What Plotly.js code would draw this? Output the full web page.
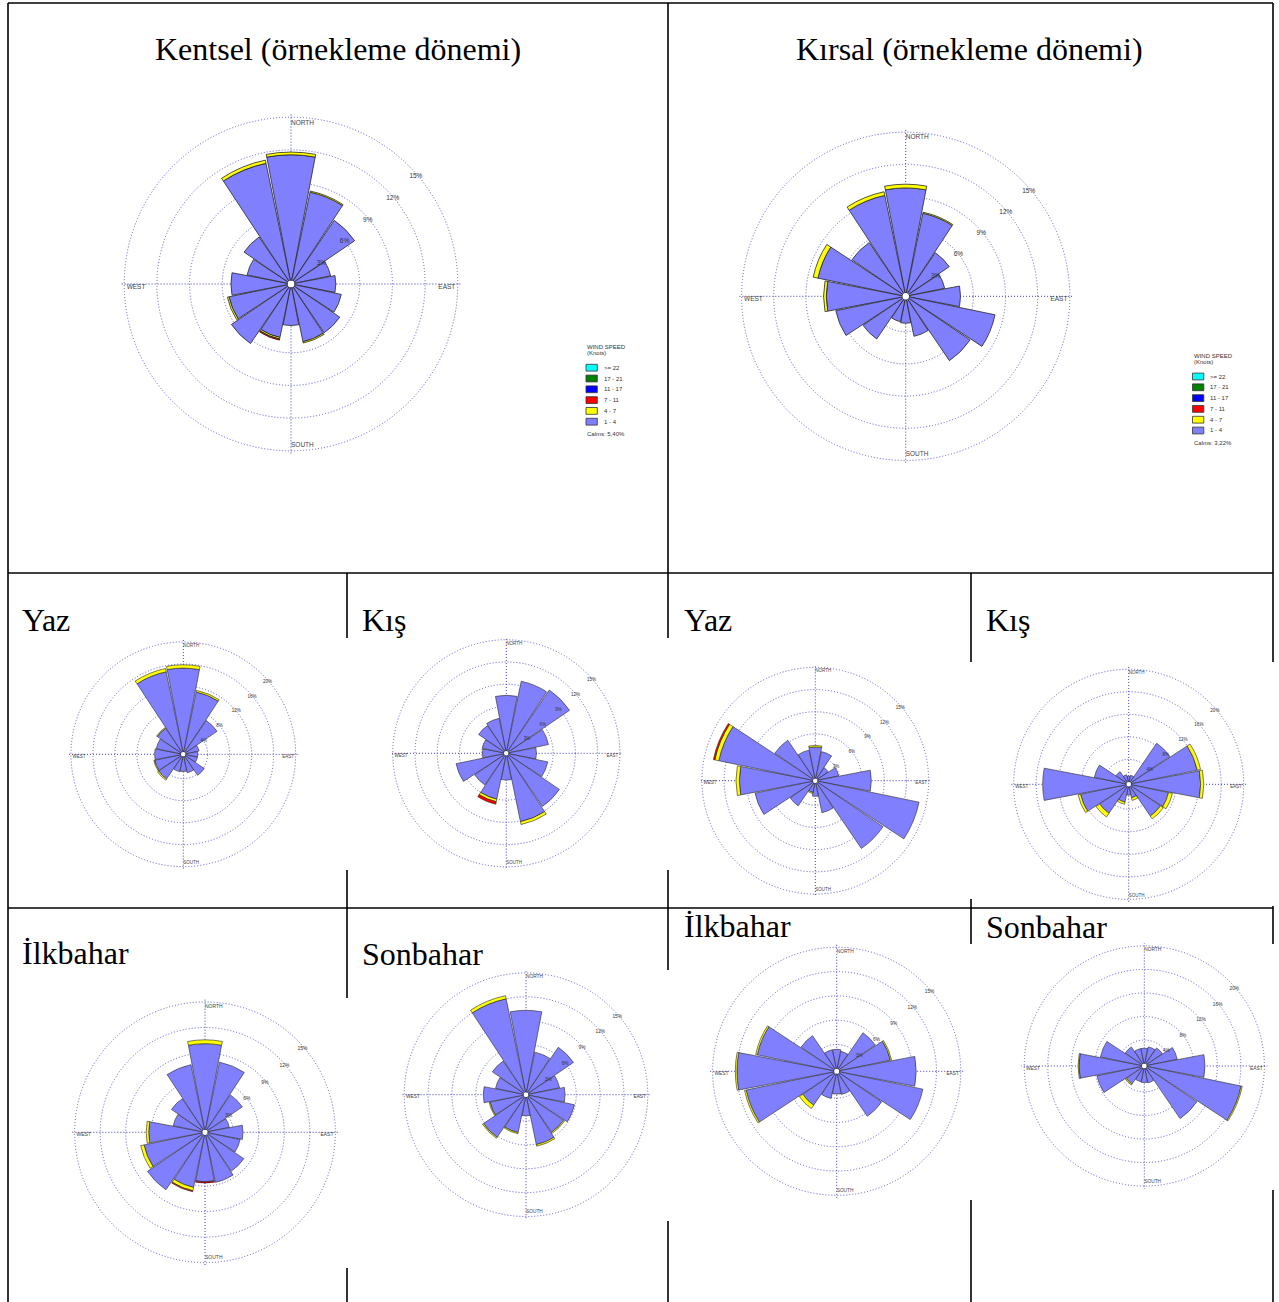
<!DOCTYPE html>
<html>
<head>
<meta charset="utf-8">
<script src="https://cdn.plot.ly/plotly-3.0.1.min.js"></script>
<style>
html,body{margin:0;padding:0;background:#ffffff;}
#chart{width:1279px;height:1302px;}
</style>
</head>
<body>
<div id="chart"></div>
<script>
// ---------------- DATA ----------------
const directions = ['N','NNE','NE','ENE','E','ESE','SE','SSE','S','SSW','SW','WSW','W','WNW','NW','NNW'];
const directionDegrees = [0,22.5,45,67.5,90,112.5,135,157.5,180,202.5,225,247.5,270,292.5,315,337.5];
const compassLabels = ['NORTH','EAST','SOUTH','WEST'];
const compassDegrees = [0,90,180,270];

const speedBins = ['1 - 4','4 - 7','7 - 11','11 - 17','17 - 21','>= 22'];
const speedColors = ['rgb(128,128,255)','#ffff00','#ff0000','#0000ff','#008000','#00ffff'];
const legendOrder = ['>= 22','17 - 21','11 - 17','7 - 11','4 - 7','1 - 4'];

const ticks15 = [3,6,9,12,15];
const ticks20 = [4,8,12,16,20];

const panelTitles = ['Kentsel (örnekleme dönemi)','Kırsal (örnekleme dönemi)'];
const seasonTitles = ['Yaz','Kış','Yaz','Kış','İlkbahar','Sonbahar','İlkbahar','Sonbahar'];
const calmsText = ['Calms: 5,40%','Calms: 3,22%'];

// Kentsel (urban) – whole sampling period (% frequency)
const kentselAll_1_4  = [11.55,8.3,6.75,3.4,3.8,4.4,5.1,5.1,3.5,4.7,6.3,5.5,5.2,3.8,4.9,11.0];
const kentselAll_4_7  = [0.25,0.1,0,0,0,0,0,0.12,0,0.15,0,0.15,0,0,0,0.3];
const kentselAll_7_11 = [0,0,0,0,0,0,0,0,0,0.1,0,0,0,0,0,0];
// Kırsal (rural) – whole sampling period
const kirsalAll_1_4  = [9.8,7.6,4.6,3.4,4.8,8.2,6.95,3.5,2.2,2.1,4.5,6.35,7.1,8.05,5.75,9.3];
const kirsalAll_4_7  = [0.35,0.1,0,0,0,0,0,0,0,0,0,0,0.25,0.45,0,0.35];
const kirsalAll_7_11 = [0,0,0,0,0,0,0,0,0,0,0,0,0,0,0,0];
// Kentsel Yaz
const kentselYaz_1_4  = [15.25,11.15,7.0,2.5,2.2,2.2,4.2,3.0,2.7,2.8,5.0,4.9,4.8,4.6,5.3,14.9];
const kentselYaz_4_7  = [0.6,0.3,0,0,0,0,0,0,0,0,0.25,0.15,0,0,0.15,0.6];
const kentselYaz_7_11 = [0,0,0,0,0,0,0,0,0,0,0,0,0,0,0,0];
// Kentsel Kış
const kentselKis_1_4  = [7.5,9.6,10.0,5.5,3.75,5.4,8.35,9.1,3.3,6.0,4.85,6.6,2.9,3.0,4.2,4.5];
const kentselKis_4_7  = [0,0,0,0,0,0,0,0.4,0,0.35,0,0,0,0,0,0];
const kentselKis_7_11 = [0,0,0,0,0,0,0,0,0,0.35,0,0,0,0,0,0];
// Kırsal Yaz
const kirsalYaz_1_4  = [4.25,3.7,1.8,2.9,7.25,14.0,10.75,4.1,1.8,1.3,3.8,8.0,9.95,13.0,6.3,3.9];
const kirsalYaz_4_7  = [0.2,0,0,0,0,0,0,0,0,0.15,0,0,0.45,0.55,0,0];
const kirsalYaz_7_11 = [0,0,0,0,0,0,0,0,0,0,0,0,0,0.2,0,0];
// Kırsal Kış
const kirsalKis_1_4  = [1.0,1.2,8.4,12.0,12.35,6.8,6.4,2.0,1.5,2.8,5.8,8.3,14.85,5.8,2.3,1.3];
const kirsalKis_4_7  = [0,0,0,0.6,0.55,0.7,0.6,0.5,0,0.4,0.8,0.45,0,0,0,0];
const kirsalKis_7_11 = [0,0,0,0,0,0,0,0,0,0,0,0,0,0,0,0];
// Kentsel İlkbahar
const kentselIlk_1_4  = [10.1,8.1,5.0,2.6,4.15,3.9,5.2,5.7,5.5,6.3,7.85,7.0,6.3,3.5,4.45,7.8];
const kentselIlk_4_7  = [0.45,0,0,0,0,0,0,0,0,0.4,0,0.4,0.3,0,0,0];
const kentselIlk_7_11 = [0,0,0,0,0,0,0,0,0.15,0.12,0,0,0,0,0,0];
// Kentsel Sonbahar
const kentselSon_1_4  = [10.3,5.15,6.9,4.0,4.6,5.9,5.4,6.1,2.35,4.55,6.15,4.3,5.05,3.6,4.8,12.0];
const kentselSon_4_7  = [0,0,0,0,0,0,0.15,0.2,0,0.15,0.15,0.12,0,0,0,0.4];
const kentselSon_7_11 = [0,0,0,0,0,0,0,0,0,0,0,0,0,0,0,0];
// Kırsal İlkbahar
const kirsalIlk_1_4  = [2.4,2.2,5.45,6.45,9.5,10.55,6.4,2.6,2.5,3.1,4.75,11.1,12.0,9.7,5.0,2.4];
const kirsalIlk_4_7  = [0,0,0,0.15,0,0,0,0,0,0,0.5,0.2,0.2,0.2,0,0];
const kirsalIlk_7_11 = [0,0,0,0,0,0,0,0,0,0,0,0,0,0,0,0];
// Kırsal Sonbahar
const kirsalSon_1_4  = [2.6,2.9,3.3,5.3,9.9,16.4,10.4,2.5,2.4,2.3,3.3,7.8,10.7,7.2,3.5,2.6];
const kirsalSon_4_7  = [0,0,0,0,0,0.2,0,0,0,0,0.2,0,0.15,0,0,0];
const kirsalSon_7_11 = [0,0,0,0,0,0,0,0,0,0,0,0,0,0,0,0];

// ---------------- LAYOUT HELPERS ----------------
const W = 1279, H = 1302;
const px = x => x / W;
const py = y => 1 - y / H;
const PAD = 1.025; // radial range slightly beyond the outer ring so its grid circle is drawn

const roses = [
  {cx:291,   cy:284,    R:166.7, rmax:15, ticks:ticks15, bins:[kentselAll_1_4,kentselAll_4_7,kentselAll_7_11], fs:6.5},
  {cx:905.7, cy:296.3,  R:164,   rmax:15, ticks:ticks15, bins:[kirsalAll_1_4,kirsalAll_4_7,kirsalAll_7_11], fs:6.5},
  {cx:183.3, cy:754.3,  R:112.3, rmax:20, ticks:ticks20, bins:[kentselYaz_1_4,kentselYaz_4_7,kentselYaz_7_11], fs:4.5},
  {cx:506.3, cy:753.3,  R:113.5, rmax:15, ticks:ticks15, bins:[kentselKis_1_4,kentselKis_4_7,kentselKis_7_11], fs:4.5},
  {cx:815.3, cy:780.7,  R:113.3, rmax:15, ticks:ticks15, bins:[kirsalYaz_1_4,kirsalYaz_4_7,kirsalYaz_7_11], fs:4.5},
  {cx:1128.7,cy:784.3,  R:115,   rmax:20, ticks:ticks20, bins:[kirsalKis_1_4,kirsalKis_4_7,kirsalKis_7_11], fs:4.5},
  {cx:205,   cy:1132.3, R:130.3, rmax:15, ticks:ticks15, bins:[kentselIlk_1_4,kentselIlk_4_7,kentselIlk_7_11], fs:5},
  {cx:526,   cy:1094.7, R:121.7, rmax:15, ticks:ticks15, bins:[kentselSon_1_4,kentselSon_4_7,kentselSon_7_11], fs:4.8},
  {cx:836.7, cy:1071.3, R:124,   rmax:15, ticks:ticks15, bins:[kirsalIlk_1_4,kirsalIlk_4_7,kirsalIlk_7_11], fs:4.8},
  {cx:1144.3,cy:1066,   R:120,   rmax:20, ticks:ticks20, bins:[kirsalSon_1_4,kirsalSon_4_7,kirsalSon_7_11], fs:4.8}
];

const gridColor = '#5a5ad0';
const axisColor = '#3a3ab8';
const gridDash = '1px,2px';
const labelFont = 'Liberation Sans, Arial, sans-serif';
const serifFont = 'Liberation Serif, Times New Roman, serif';

const traces = [];
const layout = {
  width: W, height: H,
  margin: {l:0, r:0, t:0, b:0},
  paper_bgcolor: '#ffffff',
  showlegend: false,
  shapes: [],
  annotations: []
};

roses.forEach((rose, i) => {
  const key = i === 0 ? 'polar' : 'polar' + (i + 1);
  const Rd = rose.R * PAD;
  rose.bins.forEach((vals, j) => {
    if (!vals.some(v => v > 0)) return;
    traces.push({
      type: 'barpolar',
      subplot: key,
      name: speedBins[j],
      r: vals.map(v => v > 0 ? v : null),
      theta: directionDegrees,
      width: 21.6,
      marker: {color: speedColors[j], line: {color: '#262626', width: i < 2 ? 0.8 : 0.6}},
      hoverinfo: 'skip'
    });
  });
  // ring labels
  traces.push({
    type: 'scatterpolar', subplot: key, mode: 'text',
    r: rose.ticks.map(t => t * 0.97), theta: rose.ticks.map(() => 47),
    text: rose.ticks.map(t => t + '%'),
    textposition: 'bottom right',
    textfont: {family: labelFont, size: rose.fs, color: '#333333'},
    cliponaxis: false, hoverinfo: 'skip'
  });
  // compass labels
  traces.push({
    type: 'scatterpolar', subplot: key, mode: 'text',
    r: compassDegrees.map(() => rose.rmax * 0.985),
    theta: compassDegrees,
    text: compassLabels,
    textposition: ['bottom right','bottom left','top right','bottom right'],
    textfont: {family: labelFont, size: rose.fs, color: '#444444'},
    cliponaxis: false, hoverinfo: 'skip'
  });
  layout[key] = {
    domain: {x: [px(rose.cx - Rd), px(rose.cx + Rd)], y: [py(rose.cy + Rd), py(rose.cy - Rd)]},
    bgcolor: 'rgba(255,255,255,0)',
    hole: 0.02,
    barmode: 'stack',
    bargap: 0,
    radialaxis: {
      range: [0, rose.rmax * PAD], tickvals: rose.ticks, showticklabels: false, ticks: '',
      showline: false, showgrid: true, gridcolor: gridColor, griddash: gridDash, gridwidth: 1
    },
    angularaxis: {
      rotation: 90, direction: 'clockwise', tickvals: compassDegrees,
      showticklabels: false, ticks: '', showline: false,
      showgrid: true, gridcolor: axisColor, griddash: gridDash, gridwidth: 1
    }
  };
});

// ---------------- TABLE LINES ----------------
const hLines = [[3,8,1273],[573,8,1273],[908,8,1273]];
const vLines = [
  [8,3,1302],
  [668,3,638],[668,870,970],[668,1221,1302],
  [1273,3,662],[1273,906,944],[1273,1190,1302],
  [347,573,638],[347,870,998],[347,1268,1302],
  [971,573,662],[971,899,944],[971,1200,1302]
];
hLines.forEach(([y,x0,x1]) => layout.shapes.push({type:'line', xref:'paper', yref:'paper', x0:px(x0), x1:px(x1), y0:py(y), y1:py(y), line:{color:'#000', width:1.6}, layer:'below'}));
vLines.forEach(([x,y0,y1]) => layout.shapes.push({type:'line', xref:'paper', yref:'paper', x0:px(x), x1:px(x), y0:py(y0), y1:py(y1), line:{color:'#000', width:1.6}, layer:'below'}));

// ---------------- TITLES ----------------
const titlePos = [[338,49],[970,49]];
panelTitles.forEach((t,i) => layout.annotations.push({
  text: t, xref:'paper', yref:'paper', x:px(titlePos[i][0]), y:py(titlePos[i][1]),
  xanchor:'center', yanchor:'middle', showarrow:false,
  font:{family: serifFont, size: 32, color:'#000'}
}));
const seasonPos = [[20,620],[360,620],[682,620],[984,620],[20,953],[360,954],[682,926],[984,927]];
seasonTitles.forEach((t,i) => layout.annotations.push({
  text: t, xref:'paper', yref:'paper', x:px(seasonPos[i][0]), y:py(seasonPos[i][1]),
  xanchor:'left', yanchor:'middle', showarrow:false,
  font:{family: serifFont, size: 32, color:'#000'}
}));

// ---------------- WIND SPEED LEGENDS ----------------
const legendPos = [[585,346.7],[1191.5,355.5]];
legendPos.forEach(([lx,ly], k) => {
  const small = {family: labelFont, size: 6, color:'#333'};
  layout.annotations.push({text:'WIND SPEED', xref:'paper', yref:'paper', x:px(lx), y:py(ly), xanchor:'left', yanchor:'middle', showarrow:false, font:small});
  layout.annotations.push({text:'(Knots)', xref:'paper', yref:'paper', x:px(lx), y:py(ly+6), xanchor:'left', yanchor:'middle', showarrow:false, font:small});
  legendOrder.forEach((lab, m) => {
    const cyRow = ly + 21 + m * 10.8;
    const col = speedColors[speedBins.indexOf(lab)];
    layout.shapes.push({type:'rect', xref:'paper', yref:'paper', x0:px(lx+1), x1:px(lx+12.3), y0:py(cyRow+3.4), y1:py(cyRow-3.4), fillcolor:col, line:{color:'#333', width:0.8}});
    layout.annotations.push({text:lab, xref:'paper', yref:'paper', x:px(lx+16.5), y:py(cyRow), xanchor:'left', yanchor:'middle', showarrow:false, font:small});
  });
  layout.annotations.push({text:calmsText[k], xref:'paper', yref:'paper', x:px(lx), y:py(ly+87), xanchor:'left', yanchor:'middle', showarrow:false, font:small});
});

Plotly.newPlot('chart', traces, layout, {displayModeBar:false, staticPlot:true});
</script>
</body>
</html>
